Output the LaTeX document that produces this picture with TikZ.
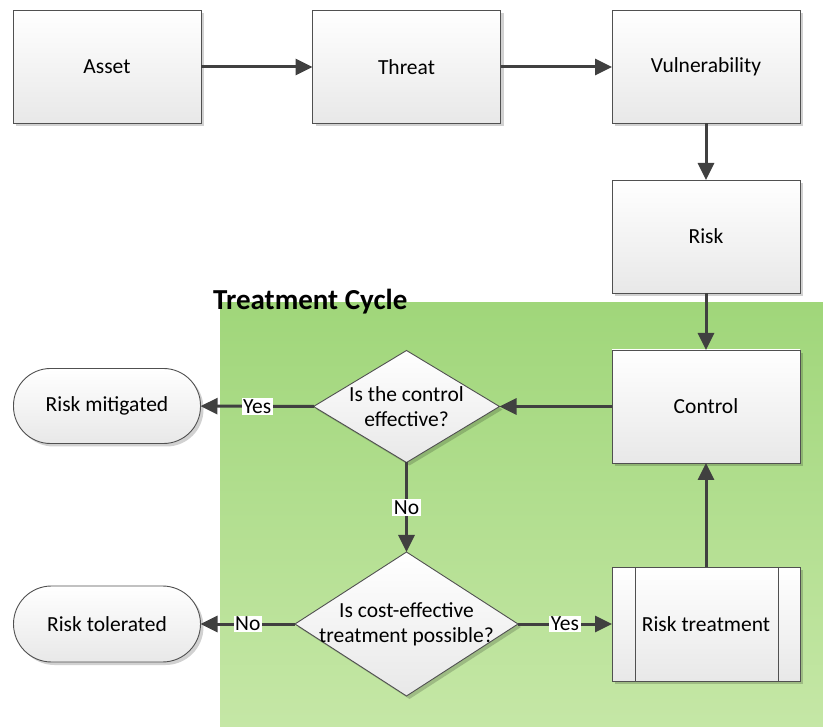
\documentclass[tikz,border=0pt]{standalone}
\usepackage{fontspec}
\setmainfont{Carlito}
\usetikzlibrary{shapes.geometric,arrows.meta,shadows}
\definecolor{arrowgray}{RGB}{64,64,64}
\definecolor{edgegray}{RGB}{80,80,80}
\definecolor{greentop}{RGB}{160,214,122}
\definecolor{greenbot}{RGB}{197,231,166}
\tikzset{
  txt/.style={font=\fontsize{21.5}{25}\selectfont},
  base/.style={draw=edgegray, line width=0.9pt, top color=white, bottom color=black!9,
    drop shadow={shadow xshift=3pt, shadow yshift=-3pt, fill=black, opacity=0.18},
    txt, inner sep=0pt, outer sep=0pt},
  procbox/.style={base, rectangle, minimum width=188pt, minimum height=113pt},
  termbox/.style={base, rectangle, rounded corners=37pt, minimum width=187pt, minimum height=75pt},
  decbox/.style={base, diamond},
  conn/.style={draw=arrowgray, line width=3pt, -{Triangle[length=17pt,width=16pt]}},
  lab/.style={fill=white, inner sep=1.5pt, txt, text=black},
}
\begin{document}
\begin{tikzpicture}[x=1pt,y=-1pt]
\useasboundingbox (0,0) rectangle (823,727);
% treatment cycle area
\fill[top color=greentop, bottom color=greenbot] (220,303) rectangle (823,727);
\node[anchor=base west, font=\bfseries\fontsize{29}{33}\selectfont, inner sep=0pt] (title) at (213,310) {Treatment Cycle};

\node[procbox] (asset) at (107,67) {Asset};
\node[procbox] (threat) at (406.5,67) {Threat};
\node[procbox] (vuln) at (706,67) {Vulnerability};
\node[procbox] (risk) at (706,236.5) {Risk};
\node[procbox] (control) at (706,406.5) {Control};
\node[procbox, minimum height=114pt] (treat) at (706,624) {Risk treatment};
\draw[edgegray, line width=0.9pt] ([xshift=23pt]treat.north west) -- ([xshift=23pt]treat.south west);
\draw[edgegray, line width=0.9pt] ([xshift=-22pt]treat.north east) -- ([xshift=-22pt]treat.south east);

\node[decbox, minimum width=186pt, minimum height=112pt,
  label={[align=center, txt]center:Is the control\\effective?}] (d1) at (406.5,406.5) {};
\node[decbox, minimum width=223pt, minimum height=144pt,
  label={[align=center, txt]center:Is cost-effective\\treatment possible?}] (d2) at (406.5,624) {};

\node[termbox] (mitig) at (107,406) {Risk mitigated};
\node[termbox, minimum height=76pt, rounded corners=38pt] (toler) at (107,624) {Risk tolerated};

\draw[conn] (asset) -- (threat);
\draw[conn] (threat) -- (vuln);
\draw[conn] (vuln) -- (risk);
\draw[conn] (risk) -- (control);
\draw[conn] (control) -- (d1);
\draw[conn] (d1) -- node[lab, pos=0.5] (yes1) {Yes} (mitig);
\draw[conn] (d1) -- node[lab, pos=0.5] (no1) {No} (d2);
\draw[conn] (d2) -- node[lab, pos=0.5] (no2) {No} (toler);
\draw[conn] (d2) -- node[lab, pos=0.5] (yes2) {Yes} (treat);
\draw[conn] (treat) -- (control);
\end{tikzpicture}
\end{document}
